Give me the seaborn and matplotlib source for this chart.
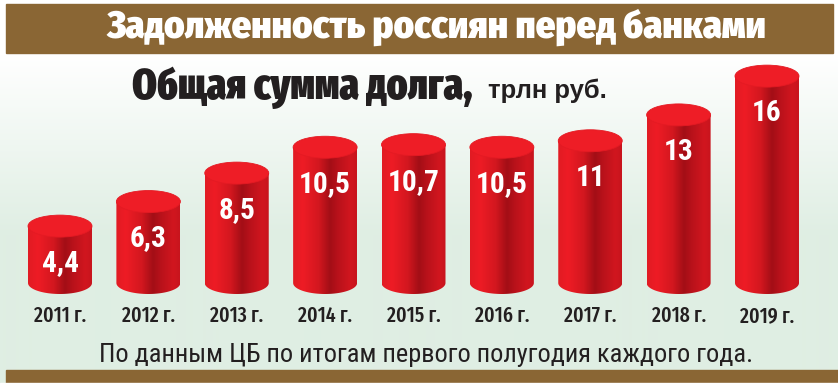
import numpy as np
import pandas as pd
import matplotlib
matplotlib.use("Agg")
import matplotlib.pyplot as plt
import seaborn as sns
from matplotlib.patches import Rectangle, Ellipse, PathPatch
from matplotlib.path import Path
from matplotlib.colors import LinearSegmentedColormap, to_rgb

# ---------------- data ----------------
years = ["2011 г.", "2012 г.", "2013 г.", "2014 г.", "2015 г.", "2016 г.", "2017 г.", "2018 г.", "2019 г."]
values = [4.4, 6.3, 8.5, 10.5, 10.7, 10.5, 11, 13, 16]
value_labels = ["4,4", "6,3", "8,5", "10,5", "10,7", "10,5", "11", "13", "16"]

header = "Задолженность россиян перед банками"
subtitle = "Общая сумма долга,"
unit = "трлн руб."
footnote = "По данным ЦБ по итогам первого полугодия каждого года."

# ---------------- style ----------------
sns.set_theme(style="white")
HEAD = ["Fira Sans Condensed", "Roboto Condensed", "DejaVu Sans"]
HEAVY = ["Fira Sans Extra Condensed", "Roboto Condensed", "DejaVu Sans"]
COND = ["Roboto Condensed", "Fira Sans Condensed", "DejaVu Sans"]
ARIAL = ["Liberation Sans", "Arimo", "DejaVu Sans"]
plt.rcParams["font.family"] = COND

W, H = 838, 385
BROWN = "#8a6634"
INK = "#231f20"
fig = plt.figure(figsize=(W / 100, H / 100), dpi=100)

# background (pixel coordinates, y downwards)
bg = fig.add_axes([0, 0, 1, 1], zorder=0)
bg.set_axis_off()
rows = np.arange(H)
t = np.clip((rows - 55) / (235 - 55), 0, 1)
c0 = np.array(to_rgb("#ffffff"))
c1 = np.array(to_rgb("#dfeee3"))
grad = (c0[None, :] * (1 - t[:, None]) + c1[None, :] * t[:, None])[:, None, :]
bg.imshow(grad, extent=(0, W, H, 0), aspect="auto", interpolation="bilinear", zorder=0)
bg.add_patch(Rectangle((0, 0), W, 4, color="white", zorder=1))
bg.add_patch(Rectangle((6, 4), 827, 49, color=BROWN, zorder=2))
bg.add_patch(Rectangle((6, 370), 832, 13, color=BROWN, zorder=2))
bg.add_patch(Rectangle((0, 383), W, 2, color="white", zorder=2))
bg.set_xlim(0, W)
bg.set_ylim(H, 0)

# main axes: category centres at x = 60 + 88.4*i, value 0 at pixel row 283
PX_PER_UNIT = 12.93
y0_px, ytop_px, ybot_px = 283, 50, 300
step = 88.375
left_px = 60 - step / 2
ax = fig.add_axes([left_px / W, (H - ybot_px) / H, 9 * step / W, (ybot_px - ytop_px) / H], zorder=2)
ax.patch.set_alpha(0)
YLIM = (-(ybot_px - y0_px) / PX_PER_UNIT, (y0_px - ytop_px) / PX_PER_UNIT)

df = pd.DataFrame({"year": years, "value": values})
sns.barplot(data=df, x="year", y="value", ax=ax, width=0.724, color="#e81c24",
            saturation=1, errorbar=None)
ax.set_xlim(-0.5, 8.5)
ax.set_ylim(*YLIM)
ax.set_axis_off()

b = 11 / PX_PER_UNIT  # ellipse semi-minor axis in data units
cmap = LinearSegmentedColormap.from_list("cyl", [
    (0.0, "#e11b23"), (0.15, "#ee1c25"), (0.40, "#d3171f"), (0.58, "#a30e16"),
    (0.72, "#bb121b"), (0.90, "#d1161f"), (1.0, "#c8141d")])
hgrad = np.linspace(0, 1, 200)[None, :]

for i, p in enumerate(list(ax.patches)):
    x0, w, h = p.get_x(), p.get_width(), p.get_height()
    xc = x0 + w / 2
    p.set_visible(False)
    tt = np.linspace(np.pi, 2 * np.pi, 60)
    pts = [(xc + w / 2 * np.cos(a), b * np.sin(a)) for a in tt]
    pts += [(x0 + w, h), (x0, h), pts[0]]
    clip = PathPatch(Path(pts), transform=ax.transData, facecolor="none", edgecolor="none")
    im = ax.imshow(hgrad, cmap=cmap, extent=(x0, x0 + w, -b, h), aspect="auto",
                   interpolation="bilinear", zorder=2)
    im.set_clip_path(clip)
    ax.add_patch(Ellipse((xc, h), w, 2 * b, facecolor="#ee1d26", edgecolor="#e41a23",
                         lw=0.6, zorder=3))
    ax.annotate(value_labels[i], xy=(xc, h), xytext=(0, -45), textcoords="offset pixels",
                ha="center", va="baseline", color="white", fontsize=23, fontweight="bold",
                family=COND, zorder=5)
    ax.annotate(years[i], xy=(xc, 0), xytext=(0, -39), textcoords="offset pixels",
                ha="center", va="baseline", color=INK, fontsize=16.5, fontweight="medium",
                family=HEAVY, zorder=5, annotation_clip=False)

ax.set_xlim(-0.5, 8.5)
ax.set_ylim(*YLIM)


def fy(py):
    return (H - py) / H


def fit(txt, target):
    fig.canvas.draw()
    wpx = txt.get_window_extent().width
    txt.set_fontsize(txt.get_fontsize() * target / wpx)


# fit the year labels so that "2014 г." is about 54 px wide, values so "10,5" is 52 px
fig.canvas.draw()
yl = [a for a in ax.texts if a.get_text() == years[3]][0]
scale_y = 54 / yl.get_window_extent().width
for a in ax.texts:
    if a.get_text() in years:
        a.set_fontsize(a.get_fontsize() * scale_y)
vl = [a for a in ax.texts if a.get_text() == value_labels[3]][0]
scale_v = 52 / vl.get_window_extent().width
for a in ax.texts:
    if a.get_text() in value_labels:
        a.set_fontsize(a.get_fontsize() * scale_v)

t1 = fig.text(107 / W, fy(38), header, color="white", fontsize=28, fontweight="black",
              ha="left", va="baseline", family=HEAD, zorder=10)
fit(t1, 660)
t2 = fig.text(132 / W, fy(99), subtitle, color=INK, fontsize=26, fontweight="black",
              ha="left", va="baseline", family=HEAVY, zorder=10)
fit(t2, 341)
t3 = fig.text(488 / W, fy(98), unit, color=INK, fontsize=15, fontweight="bold",
              ha="left", va="baseline", family=ARIAL, zorder=10)
fit(t3, 120)
t4 = fig.text(99 / W, fy(362), footnote, color=INK, fontsize=18,
              ha="left", va="baseline", family=COND, zorder=10)
fit(t4, 655)

fig.savefig("out.png", dpi=100)
